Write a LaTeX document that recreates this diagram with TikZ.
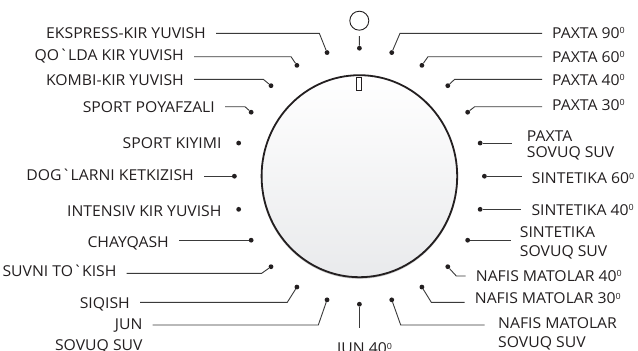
\documentclass[tikz,border=0pt]{standalone}
\usepackage{fontspec}
\newfontfamily\lblfont{Open Sans}[FakeStretch=1.05]
\usetikzlibrary{calc}
\definecolor{ink}{HTML}{231F20}
\definecolor{wirec}{HTML}{3A3A3A}
\definecolor{dialgray}{HTML}{E9EAEC}
\newcommand{\dgr}{\raisebox{4.6pt}{\fontsize{8.5}{8.5}\selectfont 0}}
\begin{document}
\begin{tikzpicture}[x=1pt,y=-1pt,
  lbl/.style={font=\lblfont\fontsize{15}{19.5}\selectfont, text=ink, inner xsep=10pt, inner ysep=0pt},
  wire/.style={draw=wirec, line width=0.9pt},
  dot/.style={circle, fill=ink, inner sep=0pt, minimum size=4.8pt}]
\useasboundingbox[fill=white] (0,0) rectangle (638,351);
\coordinate (C) at (359.4,176.2);
% dial
\fill[gray!45] ($(C)+(0,1.2)$) ellipse [x radius=98.4, y radius=101.4];
\path[top color=white, bottom color=dialgray, draw=ink, line width=1.8pt] (C) ellipse [x radius=97.8, y radius=101];
\draw[ink, line width=0.8pt, fill=white] (355.9,77.5) rectangle (361.1,90);
% dots
\foreach \i in {0,...,23}
  \node[dot] (d\i) at ($(C)+({125*sin(15*\i)},{-128*cos(15*\i)})$) {};
% top circle
\node[circle, draw=ink, line width=0.9pt, minimum size=19pt, inner sep=0pt, outer sep=6pt] (off) at (359.3,20.7) {};
\draw[wire] (off.south) -- (d0);
% left labels
\node[lbl, anchor=base east] (l1) at (216,38.3) {EKSPRESS-KIR YUVISH};
\coordinate (b1) at (319.3,33.3);
\draw[wire] (l1.east |- b1) -- (b1) -- (d23);
\node[lbl, anchor=base east] (l2) at (194,60.7) {QO`LDA KIR YUVISH};
\coordinate (b2) at (291,56.7);
\draw[wire] (l2.east |- b2) -- (b2) -- (d22);
\node[lbl, anchor=base east] (l3) at (194,85) {KOMBI-KIR YUVISH};
\coordinate (b3) at (263.3,79.3);
\draw[wire] (l3.east |- b3) -- (b3) -- (d21);
\node[lbl, anchor=base east] (l4) at (225,112.3) {SPORT POYAFZALI};
\coordinate (b4) at (245,106.7);
\draw[wire] (l4.east |- b4) -- (b4) -- (d20);
\node[lbl, anchor=base east] (l5) at (231.7,148.3) {SPORT KIYIMI};
\node[lbl, anchor=base east] (l6) at (204,180.8) {DOG`LARNI KETKIZISH};
\draw[wire] (l6.east |- d18) -- (d18);
\node[lbl, anchor=base east] (l7) at (231.7,216.3) {INTENSIV KIR YUVISH};
\node[lbl, anchor=base east] (l8) at (179,247.7) {CHAYQASH};
\draw[wire] (l8.east |- d16) -- (d16);
\node[lbl, anchor=base east] (l9) at (126.7,276.7) {SUVNI TO`KISH};
\coordinate (b9) at (261.7,273.3);
\draw[wire] (l9.east |- b9) -- (b9) -- (d15);
\node[lbl, anchor=base east] (l10) at (140,308.3) {SIQISH};
\coordinate (b10) at (287.3,302.3);
\draw[wire] (l10.east |- b10) -- (b10) -- (d14);
\node[lbl, anchor=base east, align=right, font=\lblfont\fontsize{15}{20.5}\selectfont] (l11) at (152.7,350) {JUN\\SOVUQ SUV};
\coordinate (b11) at (318.3,325);
\draw[wire] (l11.east |- b11) -- (b11) -- (d13);
% bottom label
\node[lbl, anchor=base, inner xsep=0pt] (l12) at (364.5,353.8) {JUN 40\dgr};
\coordinate (e12) at (359.4,328.3);
\draw[wire] (d12) -- (e12);
% right labels
\node[lbl, anchor=base west] (r1) at (542,38.3) {PAXTA 90\dgr};
\coordinate (c1) at (400,33.3);
\draw[wire] (r1.west |- c1) -- (c1) -- (d1);
\node[lbl, anchor=base west] (r2) at (542,62.3) {PAXTA 60\dgr};
\coordinate (c2) at (428,56.7);
\draw[wire] (r2.west |- c2) -- (c2) -- (d2);
\node[lbl, anchor=base west] (r3) at (542,85) {PAXTA 40\dgr};
\coordinate (c3) at (454.7,79.3);
\draw[wire] (r3.west |- c3) -- (c3) -- (d3);
\node[lbl, anchor=base west] (r4) at (542,110.3) {PAXTA 30\dgr};
\coordinate (c4) at (474.7,106.7);
\draw[wire] (r4.west |- c4) -- (c4) -- (d4);
\node[lbl, anchor=base west, align=left, inner xsep=15pt, font=\lblfont\fontsize{15}{16.3}\selectfont] (r5) at (511.7,157.3) {PAXTA\\SOVUQ SUV};
\draw[wire] (d5) -- (r5.west |- d5);
\node[lbl, anchor=base west] (r6) at (521.7,183.7) {SINTETIKA 60\dgr};
\draw[wire] (d6) -- (r6.west |- d6);
\node[lbl, anchor=base west] (r7) at (521.3,215.3) {SINTETIKA 40\dgr};
\draw[wire] (d7) -- (r7.west |- d7);
\node[lbl, anchor=base west, align=left, inner xsep=9pt] (r8) at (510.7,256.7) {SINTETIKA\\SOVUQ SUV};
\draw[wire] (d8) -- (r8.west |- d8);
\node[lbl, anchor=base west] (r9) at (465.7,281.2) {NAFIS MATOLAR 40\dgr};
\coordinate (c9) at (456.3,276);
\draw[wire] (r9.west |- c9) -- (c9) -- (d9);
\node[lbl, anchor=base west] (r10) at (464.7,303.8) {NAFIS MATOLAR 30\dgr};
\coordinate (c10) at (431.3,302.3);
\draw[wire] (r10.west |- c10) -- (c10) -- (d10);
\node[lbl, anchor=base west, align=left, inner xsep=13.3pt] (r11) at (484.7,347.7) {NAFIS MATOLAR\\SOVUQ SUV};
\coordinate (c11) at (400.7,325);
\draw[wire] (r11.west |- c11) -- (c11) -- (d11);
\end{tikzpicture}
\end{document}
